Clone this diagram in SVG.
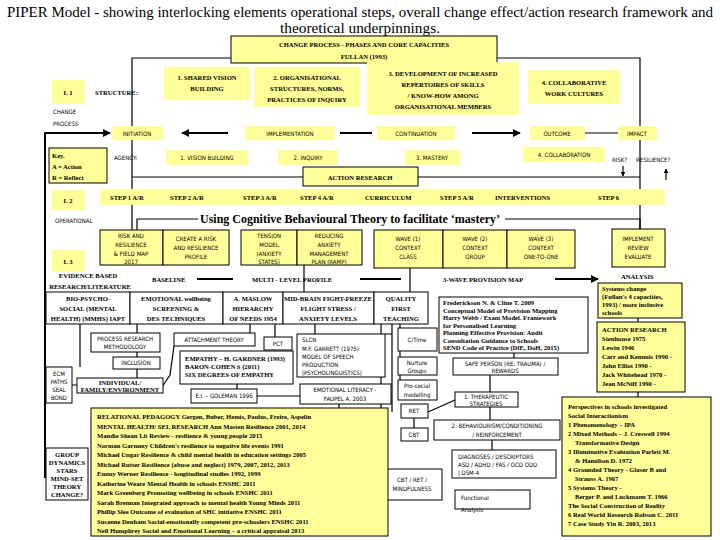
<svg xmlns="http://www.w3.org/2000/svg" width="720" height="540" viewBox="0 0 720 540">
<style>
.y{fill:#ffff99;stroke:none}
.yb{fill:#ffff99;stroke:#000;stroke-width:1}
.w{fill:#fff;stroke:#000;stroke-width:1}
.s{font-family:"DejaVu Sans Condensed","DejaVu Sans",sans-serif;font-size:6px}
.b{font-family:"Liberation Serif",serif;font-weight:bold;font-size:6.6px}
.c{text-anchor:middle}
.l{stroke:#000;stroke-width:1.2;fill:none}
.t{stroke:#000;stroke-width:2;fill:none}
</style>
<defs>
<marker id="a" viewBox="0 0 10 10" refX="9" refY="5" markerWidth="4" markerHeight="4" orient="auto-start-reverse"><path d="M0,0L10,5L0,10z"/></marker>
</defs>
<rect width="720" height="540" fill="#fff"/>
<text x="360" y="17" class="c" font-family="Liberation Serif,serif" font-size="14" textLength="706" lengthAdjust="spacingAndGlyphs">PIPER  Model - showing interlocking elements operational steps, overall change effect/action research framework and</text>
<text x="360" y="33" class="c" font-family="Liberation Serif,serif" font-size="14" textLength="160" lengthAdjust="spacingAndGlyphs">theoretical underpinnings.</text>

<g id="connectors">
<path class="l" d="M231,58H132V252M497,58H640V252"/>
<path class="l" d="M132,177H303M418,177H640"/>
<path d="M132,245v8M640,245v8" class="l" marker-end="url(#a)"/>
<path class="t" d="M45,478V133H110" marker-end="url(#a)"/>
<path class="t" d="M182,133H228M340,133H372M472,133H520" marker-start="url(#a)" marker-end="url(#a)"/>
<path class="l" d="M585,133H618"/>
<path class="l" d="M623,166V176" marker-end="url(#a)"/>
<path class="l" d="M666,180V169" marker-end="url(#a)"/>
<path class="l" d="M198,219H137V230M505,219H640V229"/>
<path class="t" d="M418,249H440M485,249H505" marker-start="url(#a)" marker-end="url(#a)"/>
<path class="t" d="M197,279H233M360,279H401M555,279H598" marker-end="url(#a)"/>
<path class="l" d="M410,268V292M304,265V292M130,292V324"/>
<path class="l" d="M400,324V328M400,351V357M400,375V380M137,324V333M137,352V357M137,369V378M250,324V333M275,324V337M315,324V334M310,351H297M237,384V389M257,396H300M638,318V322M638,392V397M514,353V358M490,375V392M490,407V420M414,418V428M492,440V450M428,412L455,400M162,387L170,375L174,346M339,404V408M80,324V367M72,385H77M45,475H46"/>
<path class="l" d="M392,320V412M385,334H392"/>
<path class="l" d="M381,324V469M100,408V460L300,492"/>
</g>

<g id="change"><rect class="yb" x="231" y="36" width="266" height="27"/><text class="b c" x="364" y="47">CHANGE PROCESS - PHASES AND CORE CAPACITIES</text><text class="b c" x="364" y="59">FULLAN (1993)</text></g>
<g id="L1"><rect class="y" x="52" y="80" width="33" height="24"/><text class="b c" x="68" y="95">L 1</text></g>
<text id="structure" class="b" x="95" y="95" font-size="7.5">STRUCTURE:</text>
<g id="s1"><rect class="y" x="164" y="67" width="86" height="33"/><text class="b c" x="207" y="80">1. SHARED VISION</text><text class="b c" x="207" y="91">BUILDING</text></g>
<g id="s2"><rect class="y" x="254" y="67" width="106" height="40"/><text class="b c" x="307" y="80">2. ORGANISATIONAL</text><text class="b c" x="307" y="91">STRUCTURES, NORMS,</text><text class="b c" x="307" y="102">PRACTICES OF INQUIRY</text></g>
<g id="s3"><rect class="y" x="367" y="62" width="152" height="53"/><text class="b c" x="443" y="76">3. DEVELOPMENT OF INCREASED</text><text class="b c" x="443" y="87">REPERTOIRES OF SKILLS</text><text class="b c" x="443" y="98">/ KNOW-HOW AMONG</text><text class="b c" x="443" y="109">ORGANISATIONAL MEMBERS</text></g>
<g id="s4"><rect class="y" x="528" y="70" width="92" height="34"/><text class="b c" x="574" y="85">4. COLLABORATIVE</text><text class="b c" x="574" y="96">WORK CULTURES</text></g>
<text class="s" x="53" y="114" font-size="5">CHANGE</text><text class="s" x="53" y="126" font-size="5">PROCESS</text>
<g id="p1"><rect class="y" x="112" y="126" width="51" height="14"/><text class="s c" x="137" y="136" font-size="5.5">INITIATION</text></g>
<g id="p2"><rect class="y" x="245" y="126" width="90" height="14"/><text class="s c" x="290" y="136" font-size="5.5">IMPLEMENTATION</text></g>
<g id="p3"><rect class="y" x="377" y="126" width="78" height="14"/><text class="s c" x="416" y="136" font-size="5.5">CONTINUATION</text></g>
<g id="p4"><rect class="y" x="530" y="126" width="55" height="14"/><text class="s c" x="557" y="136" font-size="5.5">OUTCOME</text></g>
<g id="p5"><rect class="y" x="618" y="126" width="39" height="14"/><text class="s c" x="637" y="136" font-size="5.5">IMPACT</text></g>
<g id="key"><rect class="yb" x="49" y="148" width="58" height="35"/><text class="b" x="52" y="158">Key.</text><text class="b" x="52" y="169">A = Action</text><text class="b" x="52" y="180">R = Reflect</text></g>
<text class="s" x="114" y="160">AGENCY:</text>
<g id="a1"><rect class="y" x="166" y="150" width="82" height="15"/><text class="s c" x="207" y="160" font-size="5.5">1. VISION BUILDING</text></g>
<g id="a2"><rect class="y" x="278" y="150" width="60" height="15"/><text class="s c" x="308" y="160" font-size="5.5">2. INQUIRY</text></g>
<g id="a3"><rect class="y" x="405" y="150" width="55" height="15"/><text class="s c" x="432" y="160" font-size="5.5">3. MASTERY</text></g>
<g id="a4"><rect class="y" x="523" y="147" width="82" height="15"/><text class="s c" x="564" y="157" font-size="5.5">4. COLLABORATION</text></g>
<text class="s" x="612" y="162" font-size="4.5">RISK?</text><text class="s" x="636" y="162" font-size="4.5">RESILIENCE?</text>
<g id="ar"><rect class="yb" x="303" y="167" width="115" height="19"/><text class="b c" x="360" y="180" font-size="9.5">ACTION RESEARCH</text></g>
<g id="L2"><rect class="y" x="52" y="190" width="33" height="20"/><text class="b c" x="68" y="203">L 2</text></g>
<g id="steps"><rect class="y" x="100" y="189" width="565" height="16"/>
<text class="b" x="110" y="200">STEP 1 A/R</text><text class="b" x="170" y="200">STEP 2 A/R</text><text class="b" x="243" y="200">STEP  3 A/R</text><text class="b" x="300" y="200">STEP 4 A/R</text><text class="b" x="365" y="200">CURRICULUM</text><text class="b" x="440" y="200">STEP 5 A/R</text><text class="b" x="495" y="200">INTERVENTIONS</text><text class="b" x="598" y="200">STEP 6</text></g>
<text class="s" x="55" y="223" font-size="5.5">OPERATIONAL</text>
<text x="350" y="223" class="c" font-family="Liberation Serif,serif" font-weight="bold" font-size="12.5" textLength="300" lengthAdjust="spacingAndGlyphs">Using Cognitive Behavioural Theory to facilitate ‘mastery’</text>
<g id="rr"><rect class="yb" x="100" y="230" width="63" height="35"/><text class="s c" x="131" y="238" font-size="5">RISK AND</text><text class="s c" x="131" y="247" font-size="5">RESILIENCE</text><text class="s c" x="131" y="256" font-size="5">&amp; FIELD MAP</text><text class="s c" x="131" y="264" font-size="5">2017</text></g>
<g id="cr"><rect class="yb" x="163" y="230" width="66" height="35"/><text class="s c" x="196" y="241" font-size="5">CREATE A RISK</text><text class="s c" x="196" y="250" font-size="5">AND RESILIENCE</text><text class="s c" x="196" y="259" font-size="5">PROFILE</text></g>
<g id="tm"><rect class="yb" x="241" y="230" width="56" height="35"/><text class="s c" x="269" y="238" font-size="5">TENSION</text><text class="s c" x="269" y="247" font-size="5">MODEL</text><text class="s c" x="269" y="256" font-size="5">(ANXIETY</text><text class="s c" x="269" y="264" font-size="5">STATES)</text></g>
<g id="ra"><rect class="yb" x="297" y="230" width="65" height="35"/><text class="s c" x="329" y="238" font-size="5">REDUCING</text><text class="s c" x="329" y="247" font-size="5">ANXIETY</text><text class="s c" x="329" y="256" font-size="5">MANAGEMENT</text><text class="s c" x="329" y="264" font-size="5">PLAN (RAMP)</text></g>
<g id="w1"><rect class="yb" x="374" y="230" width="69" height="38"/><text class="s c" x="408" y="241" font-size="5">WAVE (1)</text><text class="s c" x="408" y="250" font-size="5">CONTEXT</text><text class="s c" x="408" y="259" font-size="5">CLASS</text></g>
<g id="w2"><rect class="yb" x="443" y="230" width="64" height="38"/><text class="s c" x="475" y="241" font-size="5">WAVE (2)</text><text class="s c" x="475" y="250" font-size="5">CONTEXT</text><text class="s c" x="475" y="259" font-size="5">GROUP</text></g>
<g id="w3"><rect class="yb" x="507" y="230" width="68" height="38"/><text class="s c" x="541" y="241" font-size="5">WAVE (3)</text><text class="s c" x="541" y="250" font-size="5">CONTEXT</text><text class="s c" x="541" y="259" font-size="5">ONE-TO-ONE</text></g>
<g id="impl"><rect class="yb" x="612" y="229" width="53" height="38"/><text class="s c" x="638" y="241" font-size="5">IMPLEMENT</text><text class="s c" x="638" y="250" font-size="5">REVIEW</text><text class="s c" x="638" y="259" font-size="5">EVALUATE</text></g>
<g id="L3"><rect class="y" x="52" y="250" width="33" height="22"/><text class="b c" x="68" y="264">L 3</text></g>
<text class="b c" x="88" y="278">EVIDENCE BASED</text><text class="b c" x="90" y="289">RESEARCH/LITERATURE</text>
<text class="b" x="152" y="282">BASELINE</text><text class="b" x="252" y="282">MULTI - LEVEL  PROFILE</text><text class="b" x="443" y="282">3-WAVE PROVISION MAP</text><text class="b" x="621" y="279">ANALYSIS</text>
<g id="bio"><rect class="w" x="46" y="292" width="84" height="32"/><g class="b c" font-size="5.8"><text x="88" y="301">BIO-PSYCHO-</text><text x="88" y="311">SOCIAL (MENTAL</text><text x="88" y="321">HEALTH) (MMHS) IAPT</text></g></g>
<g id="emo"><rect class="w" x="130" y="292" width="93" height="32"/><g class="b c" font-size="5.8"><text x="176" y="301">EMOTIONAL wellbeing</text><text x="176" y="311">SCREENING &amp;</text><text x="176" y="321">DES TECHNIQUES</text></g></g>
<g id="mas"><rect class="w" x="223" y="292" width="60" height="32"/><g class="b c" font-size="5.8"><text x="253" y="301">A. MASLOW</text><text x="253" y="311">HIERARCHY</text><text x="253" y="321">OF NEEDS 1954</text></g></g>
<g id="mid"><rect class="w" x="283" y="292" width="91" height="32"/><g class="b c" font-size="5.8"><text x="328" y="301">MID-BRAIN FIGHT-FREEZE</text><text x="328" y="311">FLIGHT STRESS /</text><text x="328" y="321">ANXIETY LEVELS</text></g></g>
<g id="qft"><rect class="w" x="374" y="292" width="54" height="32"/><g class="b c" font-size="5.8"><text x="401" y="301">QUALITY</text><text x="401" y="311">FIRST</text><text x="401" y="321">TEACHING</text></g></g>
<g id="fred"><rect class="w" x="439" y="297" width="149" height="56"/><g class="b" font-size="5.6">
<text x="443" y="305">Frederickson N. &amp; Cline T. 2009</text><text x="443" y="312.5">Conceptual Model of Provision Mapping</text><text x="443" y="320">Harry Webb / Exam Model. Framework</text><text x="443" y="327.5">for Personalised Learning</text><text x="443" y="335">Planning Effective Provision: Audit</text><text x="443" y="342.5">Consultation Guidance to Schools</text><text x="443" y="350">SEND Code of Practice (DfE, DoH, 2015)</text></g></g>
<g id="sys"><rect class="yb" x="598" y="283" width="84" height="35"/><g class="b" font-size="5.6"><text x="602" y="291">Systems change</text><text x="602" y="299">(Fullan's 4 capacities,</text><text x="602" y="307">1993) / more inclusive</text><text x="602" y="315">schools</text></g></g>
<g id="arr"><rect class="yb" x="597" y="322" width="88" height="70"/><text class="b" x="602" y="332">ACTION RESEARCH</text><g class="b" font-size="5.8"><text x="602" y="341">Stenhouse 1975</text><text x="602" y="350">Lewin 1946</text><text x="602" y="359">Carr and Kemmis 1990 -</text><text x="602" y="368">John Elliot 1990 -</text><text x="602" y="377">Jack Whitehead 1970 -</text><text x="602" y="386">Jean McNiff 1990 -</text></g></g>
<g id="res"><rect class="yb" x="562" y="397" width="149" height="139"/>
<g class="b" font-size="5.8"><text x="568" y="409">Perspectives in schools investigated</text><text x="568" y="418">Social Interactionism</text><text x="568" y="427">1  Phenomenology – IPA</text><text x="568" y="436">2  Mixed Methods – J. Creswell 1994</text><text x="575" y="445">Transformative Design</text><text x="568" y="454">3  Illuminative Evaluation Parlett M.</text><text x="575" y="463">&amp; Hamilton D. 1972</text><text x="568" y="472">4  Grounded Theory - Glaser B and</text><text x="575" y="481">Strauss A. 1967</text><text x="568" y="490">5  Systems Theory -</text><text x="575" y="499">Berger P. and Luckmann T. 1966</text><text x="568" y="508">The Social Construction of Reality</text><text x="568" y="517">6  Real World Research Robson C. 2011</text><text x="568" y="526">7  Case Study Yin R. 2003, 2013</text></g></g>
<g id="prm"><rect class="w" x="91" y="333" width="69" height="19"/><text class="s c" x="125" y="341" font-size="4.8">PROCESS RESEARCH</text><text class="s c" x="125" y="349" font-size="4.8">METHODOLOGY</text></g>
<g id="inc"><rect class="w" x="113" y="357" width="47" height="12"/><text class="s c" x="136" y="365" font-size="5">INCLUSION</text></g>
<g id="ecm"><rect class="w" x="46" y="367" width="26" height="36"/><text class="s c" x="59" y="376" font-size="5">ECM</text><text class="s c" x="59" y="384" font-size="5">PATHS</text><text class="s c" x="59" y="392" font-size="5">SEAL</text><text class="s c" x="59" y="400" font-size="5">BOND</text></g>
<g id="ife"><rect class="w" x="77" y="378" width="86" height="15"/><text class="b c" x="120" y="385" font-size="5">INDIVIDUAL/</text><text class="b c" x="120" y="391.5" font-size="5">FAMILY/ENVIRONMENT</text></g>
<g id="att"><rect class="w" x="174" y="333" width="81" height="13"/><text class="s c" x="214" y="342" font-size="5">ATTACHMENT THEORY</text></g>
<g id="pct"><rect class="w" x="264" y="337" width="28" height="13"/><text class="s c" x="278" y="346" font-size="5">PCT</text></g>
<g id="emp"><rect class="w" x="180" y="351" width="113" height="33"/><g class="b" font-size="5.5"><text x="185" y="361">EMPATHY – H. GARDNER (1993)</text><text x="185" y="369">BARON-COHEN S (2011)</text><text x="185" y="377">SIX DEGREES OF EMPATHY</text></g></g>
<g id="slcn"><rect class="w" x="297" y="334" width="88" height="43"/><text class="s" x="302" y="342" font-size="5">SLCN</text><text class="s" x="302" y="351" font-size="5">M.F. GARRETT (1975)</text><text class="s" x="302" y="359" font-size="5">MODEL OF SPEECH</text><text class="s" x="302" y="367" font-size="5">PRODUCTION</text><text class="s" x="302" y="375" font-size="5">(PSYCHOLINGUISTICS)</text></g>
<g id="ei"><rect class="w" x="191" y="389" width="66" height="14"/><text class="s c" x="224" y="398" font-size="5">E.I. – GOLEMAN 1996</text></g>
<g id="el"><rect class="w" x="300" y="384" width="91" height="20"/><text class="s c" x="345" y="392" font-size="5">EMOTIONAL LITERACY -</text><text class="s c" x="345" y="401" font-size="5">FAUPEL A. 2003</text></g>
<g id="ct"><rect class="w" x="398" y="328" width="39" height="23"/><text class="s c" x="417" y="342" font-size="5">C/Time</text></g>
<g id="ng"><rect class="w" x="398" y="357" width="39" height="18"/><text class="s c" x="417" y="365" font-size="5">Nurture</text><text class="s c" x="417" y="373" font-size="5">Groups</text></g>
<g id="ps"><rect class="w" x="398" y="380" width="39" height="20"/><text class="s c" x="417" y="388" font-size="5">Pro-social</text><text class="s c" x="417" y="397" font-size="5">modelling</text></g>
<g id="safe"><rect class="w" x="453" y="358" width="105" height="17"/><text class="s c" x="505" y="366" font-size="5">SAFE PERSON (RE. TRAUMA) /</text><text class="s c" x="505" y="373" font-size="5">REWARDS</text></g>
<g id="ther"><rect class="w" x="455" y="392" width="63" height="15"/><text class="s c" x="486" y="399" font-size="5">1. THERAPEUTIC</text><text class="s c" x="486" y="406" font-size="5">STRATEGIES</text></g>
<g id="ret"><rect class="w" x="401" y="404" width="27" height="14"/><text class="s c" x="414" y="413" font-size="5">RET</text></g>
<g id="cbt"><rect class="w" x="401" y="428" width="27" height="13"/><text class="s c" x="414" y="437" font-size="5">CBT</text></g>
<g id="beh"><rect class="w" x="434" y="420" width="126" height="20"/><text class="s c" x="497" y="428" font-size="5">2. BEHAVIOURISM/CONDITIONING</text><text class="s c" x="497" y="437" font-size="5">/ REINFORCEMENT</text></g>
<g id="diag"><rect class="w" x="452" y="450" width="104" height="28"/><text class="s" x="458" y="459" font-size="5">DIAGNOSES / DESCRIPTORS</text><text class="s" x="458" y="467" font-size="5">ASD / ADHD / FAS / OCD ODD</text><text class="s" x="458" y="475" font-size="5">| DSM-4</text></g>
<g id="cbtm"><rect class="w" x="382" y="469" width="60" height="31"/><text class="s c" x="412" y="482" font-size="5">CBT / RET /</text><text class="s c" x="412" y="491" font-size="5">MINDFULNESS</text></g>
<g id="fa"><rect class="w" x="455" y="490" width="75" height="19"/><text class="s" x="461" y="500" font-size="6">Functional</text><text class="s" x="461" y="512" font-size="6">Analysis</text></g>
<g id="gd"><rect class="w" x="46" y="448" width="42" height="52"/><g class="b c" font-size="5.3"><text x="67" y="457">GROUP</text><text x="67" y="465">DYNAMICS</text><text x="67" y="473">STARS</text><text x="67" y="481">MIND-SET</text><text x="67" y="489">THEORY</text><text x="67" y="497">CHANGE?</text></g></g>
<g id="rel"><rect class="yb" x="91" y="408" width="297" height="128"/>
<g class="b" font-size="5.8"><text x="97" y="419">RELATIONAL PEDAGOGY  Gergen, Buber, Hemis, Paulus, Freire, Aspelin</text><text x="97" y="428.5">MENTAL HEALTH/ SEL RESEARCH  Ann Masten  Resilience 2001, 2014</text><text x="97" y="438">Mandie Shean  Lit Review - resilience &amp; young people 2015</text><text x="97" y="447.5">Norman Garmezy  Children's resilience to negative life events 1991</text><text x="97" y="457">Michael Ungar  Resilience &amp; child mental health in education settings 2005</text><text x="97" y="466.5">Michael Rutter  Resilience (abuse and neglect) 1979, 2007, 2012, 2013</text><text x="97" y="476">Emmy Werner  Resilience - longitudinal studies 1992, 1999</text><text x="97" y="485.5">Katherine Weare  Mental Health in schools ENSHC 2011</text><text x="97" y="495">Mark Greenberg  Promoting wellbeing in schools ENSHC 2011</text><text x="97" y="504.5">Sarah Brennan  Integrated approach to mental health Young Minds 2011</text><text x="97" y="514">Phillip Slee  Outcome of evaluation of SHC initiative ENSHC 2011</text><text x="97" y="523.5">Susanne Denham  Social-emotionally competent pre-schoolers ENSHC 2011</text><text x="97" y="533">Neil Humphrey  Social and Emotional Learning – a critical appraisal 2013</text></g></g>
</svg>
